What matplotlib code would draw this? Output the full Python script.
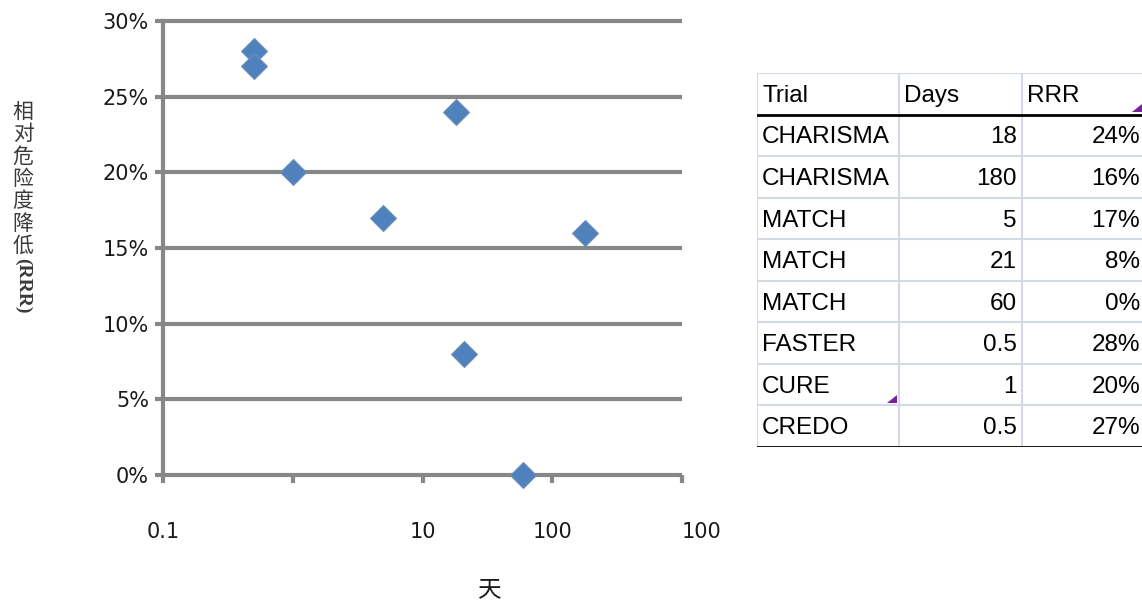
import matplotlib
matplotlib.use("Agg")
import matplotlib.pyplot as plt
from matplotlib.ticker import FixedLocator, NullLocator, FuncFormatter
from matplotlib.transforms import ScaledTranslation

# data
trials = ["CHARISMA", "CHARISMA", "MATCH", "MATCH", "MATCH", "FASTER", "CURE", "CREDO"]
days = [18, 180, 5, 21, 60, 0.5, 1, 0.5]
day_labels = ["18", "180", "5", "21", "60", "0.5", "1", "0.5"]
rrr = [24, 16, 17, 8, 0, 28, 20, 27]

x_ticks = [0.1, 1, 10, 100, 1000]
x_tick_labels = ["0.1", "", "10", "100", "100"]
y_ticks = [0, 5, 10, 15, 20, 25, 30]
table_header = ["Trial", "Days", "RRR"]
y_label_cn = "相对危险度降低"
y_label_en = "(RRR)"
x_label_cn = "天"

GRID = "#878787"
BLUE = "#4f81bd"
LINE = "#d3dae6"
PURPLE = "#7a1f9e"
CJK = ["Noto Sans CJK SC", "DejaVu Sans"]
TABLE_FONT = ["Liberation Sans", "DejaVu Sans"]

W, H = 1142, 605
fig = plt.figure(figsize=(W / 100, H / 100), dpi=100)

# ---- scatter chart ----
ax = fig.add_axes([163 / W, 1 - 475 / H, (682 - 163) / W, (475 - 21) / H])
ax.set_xscale("log")
ax.set_xlim(x_ticks[0], x_ticks[-1])
ax.set_ylim(y_ticks[0], y_ticks[-1])
ax.hlines(y_ticks, x_ticks[0], x_ticks[-1], color=GRID, lw=3, clip_on=False, zorder=1)
ax.plot(days, rrr, linestyle="none", marker="D", markersize=13,
        color=BLUE, markeredgecolor="#6f8fb8", markeredgewidth=0.8, clip_on=False, zorder=3)

for side in ["top", "right", "bottom"]:
    ax.spines[side].set_visible(False)
ax.spines["left"].set_color(GRID)
ax.spines["left"].set_linewidth(3)

ax.xaxis.set_major_locator(FixedLocator(x_ticks))
ax.xaxis.set_minor_locator(NullLocator())
ax.set_xticklabels(x_tick_labels)
ax.yaxis.set_major_locator(FixedLocator(y_ticks))
ax.yaxis.set_major_formatter(FuncFormatter(lambda v, p: f"{v:.0f}%"))
ax.tick_params(axis="both", color=GRID, width=3, length=6, labelsize=15, labelcolor="#1a1a1a")
ax.tick_params(axis="x", pad=28)
ax.tick_params(axis="y", pad=4)

# excel shifts the clipped last label to the right
last = ax.get_xticklabels()[-1]
last.set_transform(last.get_transform() + ScaledTranslation(0.2, 0, fig.dpi_scale_trans))

ax.set_xlabel(x_label_cn, family=CJK, fontsize=17, color="#1a1a1a")
ax.xaxis.set_label_coords((490 - 163) / 519, (475 - 578) / 454)

fig.text(23 / W, 1 - 101 / H, "\n".join(y_label_cn), family=CJK, fontsize=15,
         color="#3a3a3a", ha="center", va="top", linespacing=1.02)
fig.text(23 / W, 1 - 258 / H, y_label_en, family=["Liberation Serif", "DejaVu Serif"],
         fontsize=14, fontweight="bold", color="#3a3a3a", ha="center", va="top", rotation=-90)

# ---- data table ----
tax = fig.add_axes([757 / W, 1 - 447 / H, (1142 - 757) / W, (447 - 73) / H])
n_rows = len(trials) + 1
tax.set_xlim(0, 1)
tax.set_ylim(n_rows, 0)
tax.axis("off")

col_edges = [0.0, 0.369, 0.688, 1.0]
for c in col_edges[:-1]:
    tax.axvline(c, color=LINE, lw=1.5)
for r in range(n_rows + 1):
    if r in (1, n_rows):
        tax.axhline(r, color="black", lw=2, zorder=3)
    else:
        tax.axhline(r, color=LINE, lw=1.5)

fs = 17.5
for i, name in enumerate(table_header):
    tax.text(col_edges[i] + 0.013, 0.55, name, family=TABLE_FONT, fontsize=fs,
             ha="left", va="center", color="black")
for r, (t, d, v) in enumerate(zip(trials, day_labels, rrr), start=1):
    yc = r + 0.55
    tax.text(col_edges[0] + 0.013, yc, t, family=TABLE_FONT, fontsize=fs, ha="left", va="center")
    tax.text(col_edges[2] - 0.013, yc, d, family=TABLE_FONT, fontsize=fs, ha="right", va="center")
    tax.text(col_edges[3] - 0.005, yc, f"{v}%", family=TABLE_FONT, fontsize=fs, ha="right", va="center")

# comment markers (little purple triangles)
def corner_mark(xr, yb):
    tax.fill([xr - 0.025, xr, xr], [yb - 0.05, yb - 0.05, yb - 0.25],
             color=PURPLE, lw=0, zorder=4)

corner_mark(1.0, 1)
cure_row = trials.index("CURE") + 2
corner_mark(col_edges[1] - 0.006, cure_row)

fig.savefig("out.png", dpi=100)
